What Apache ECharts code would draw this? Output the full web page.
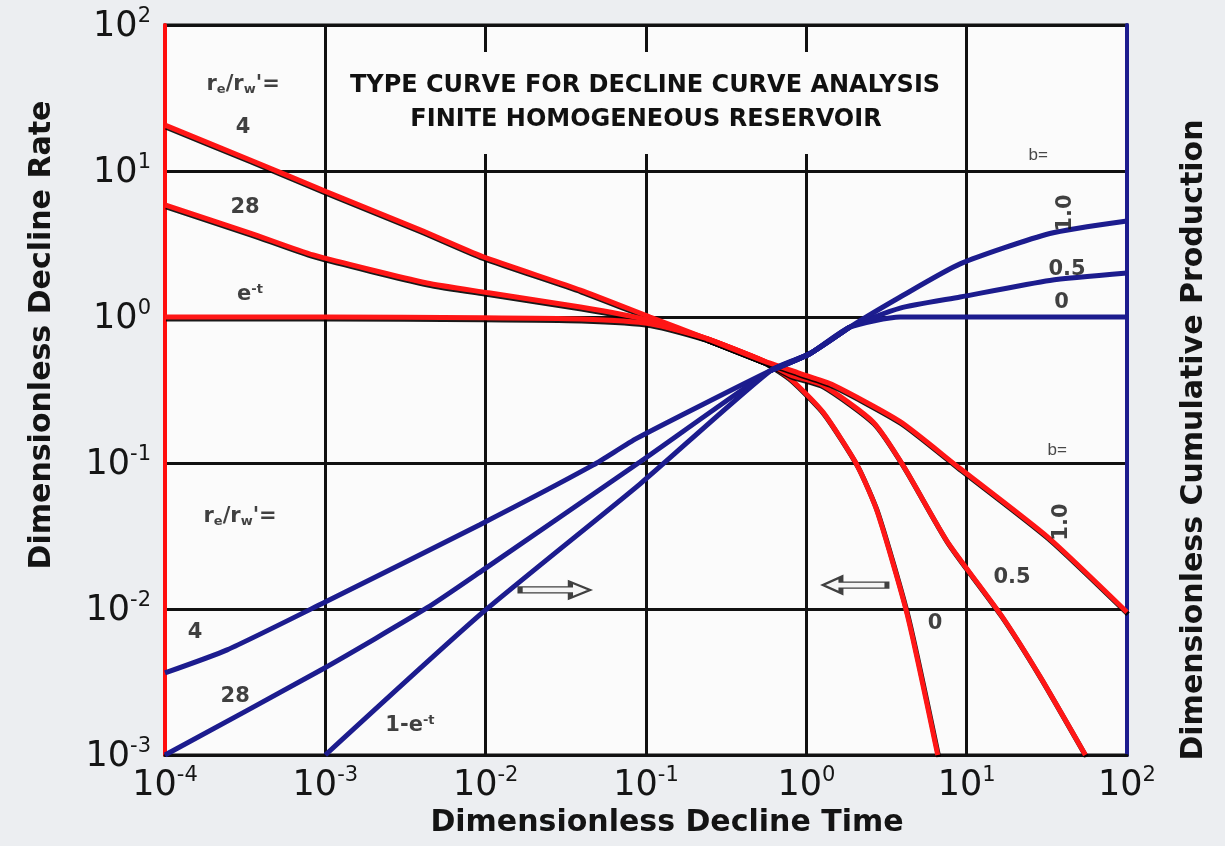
<!DOCTYPE html>
<html>
<head>
<meta charset="utf-8">
<title>Type curve for decline curve analysis</title>
<style>
html, body { margin: 0; padding: 0; background: #eceef1; }
#chart { width: 1225px; height: 846px; }
</style>
<script src="https://cdn.jsdelivr.net/npm/echarts@6/dist/echarts.min.js"></script>
</head>
<body>
<div id="chart"></div>
<script>
// tick labels (exponents of ten)
var xTickExp = ['-4', '-3', '-2', '-1', '0', '1', '2'];
var yTickExp = ['-3', '-2', '-1', '0', '1', '2'];

// decline rate curves (red), [tDd, qDd]
var rateRe4 = [[1e-4, 20.6], [3.4e-4, 11.9], [1.02e-3, 7.2], [3.9e-3, 3.95], [9.5e-3, 2.6], [0.039, 1.53], [0.106, 1.0]];
var rateRe28 = [[1e-4, 5.85], [3.4e-4, 3.76], [8.4e-4, 2.66], [4.3e-3, 1.71], [0.0102, 1.47], [0.039, 1.17], [0.1, 0.96]];
var rateExp = [[1e-4, 1.0], [1e-3, 1.0], [0.0095, 0.99], [0.039, 0.97], [0.106, 0.9]];
var rateTrunk = [[0.24, 0.71], [0.54, 0.50]];
var rateB0 = [[0.79, 0.38], [1.27, 0.223], [2.07, 0.097], [2.77, 0.0464], [4.26, 0.00916], [6.6, 0.001]];
var rateB05 = [[0.8, 0.40], [1.27, 0.341], [2.61, 0.191], [4.02, 0.096], [7.55, 0.0291], [16.2, 0.00925], [28.7, 0.00344], [55, 0.001]];
var rateB1 = [[0.91, 0.411], [1.47, 0.342], [3.85, 0.192], [8.73, 0.095], [31.8, 0.0313], [100, 0.0095]];

// cumulative production curves (blue), [tDd, QDd]
var cumRe4 = [[1e-4, 0.00365], [2.44e-4, 0.00525], [9.7e-4, 0.011], [9.2e-3, 0.0378], [0.047, 0.097], [0.088, 0.148]];
var cumRe28 = [[1e-4, 0.001], [9.7e-4, 0.0039], [4.32e-3, 0.0102], [9.5e-3, 0.0183], [0.092, 0.102]];
var cumExp = [[1e-3, 0.001], [9.5e-3, 0.0094], [0.092, 0.072]];
var cumTrunk = [[0.6, 0.43], [1.05, 0.56], [1.86, 0.85]];
var cumB0 = [[3.85, 1.0], [100, 1.0]];
var cumB05 = [[3.85, 1.15], [9.1, 1.37], [33, 1.78], [100, 2.0]];
var cumB1 = [[3.85, 1.37], [9.1, 2.31], [33, 3.73], [100, 4.55]];

// hand lettered notes on the chart, [tDd, value, text]
var notes = [
    [3.07e-4, 38.8, '{i|r}{sub|e}{i|/r}{sub|w}{i|\'=}'],
    [3.07e-4, 19.7, '4'],
    [3.16e-4, 5.58, '28'],
    [3.39e-4, 1.42, '{i|e}{sup|-t}'],
    [2.94e-4, 0.0427, '{i|r}{sub|e}{i|/r}{sub|w}{i|\'=}'],
    [1.54e-4, 0.00695, '4'],
    [2.74e-4, 0.0025, '28'],
    [3.37e-3, 0.0016, '{i|1-e}{sup|-t}'],
    [42.3, 2.1, '0.5'],
    [39, 1.25, '0'],
    [19.2, 0.0163, '0.5'],
    [6.35, 0.008, '0']
];
var notesTurned = [[41.2, 5.15, '1.0'], [39, 0.0394, '1.0']];
var bNotes = [[27.9, 12.9, 'b='], [36.7, 0.123, 'b=']];
var arrowsRight = [[0.0271, 0.0135]];
var arrowsLeft = [[2.01, 0.0146]];

var RED = '#ff1616';
var BLUE = '#1c1c8e';
var arrowPath = 'path://M0,5 L46,5 L46,0 L64,8 L46,16 L46,11 L0,11 Z';

var myChart = echarts.init(document.getElementById('chart'));

function tickLabel(exps, first) {
    return function (v) {
        var e = Math.round(Math.log10(v));
        return '{b|10}{s|' + exps[e - first] + '}';
    };
}
var tickRich = {
    b: { fontSize: 35, fontFamily: 'DejaVu Sans', color: '#151515', lineHeight: 38, verticalAlign: 'bottom' },
    s: { fontSize: 21, fontFamily: 'DejaVu Sans', color: '#151515', lineHeight: 38, verticalAlign: 'top' }
};
var noteRich = {
    i: { fontSize: 21, fontWeight: 'bold', fontFamily: 'DejaVu Sans', color: '#111' },
    sub: { fontSize: 13, fontWeight: 'bold', fontFamily: 'DejaVu Sans', color: '#111', padding: [10, 0, 0, 0] },
    sup: { fontSize: 13, fontWeight: 'bold', fontFamily: 'DejaVu Sans', color: '#111', padding: [0, 0, 10, 0] }
};
var nameStyle = { fontSize: 30, fontWeight: 'bold', fontFamily: 'DejaVu Sans', color: '#141414' };

function redLine(name, data) {
    return {
        name: name, type: 'line', data: data, yAxisIndex: 0,
        showSymbol: false, smooth: 0.2, z: 3,
        lineStyle: { color: RED, width: 5, shadowColor: 'rgba(0,0,0,0.9)', shadowBlur: 0, shadowOffsetX: 1, shadowOffsetY: 2 }
    };
}
function blueLine(name, data) {
    return {
        name: name, type: 'line', data: data, yAxisIndex: 1,
        showSymbol: false, smooth: 0.2, z: 4,
        lineStyle: { color: BLUE, width: 5 }
    };
}

var option = {
    backgroundColor: '#eceef1',
    animation: false,
    grid: {
        left: 165, right: 98, top: 25, bottom: 91,
        containLabel: false, outerBoundsMode: 'none',
        show: true, backgroundColor: '#fbfbfb', borderColor: '#111', borderWidth: 3
    },
    graphic: [
        { type: 'rect', z: 1, shape: { x: 336, y: 52, width: 614, height: 102 }, style: { fill: '#fbfbfb' } },
        { type: 'text', z: 1, x: 645, y: 86, style: { text: 'TYPE CURVE FOR DECLINE CURVE ANALYSIS', align: 'center', verticalAlign: 'middle', font: 'bold 24px "DejaVu Sans"', fill: '#111' } },
        { type: 'text', z: 1, x: 646, y: 120, style: { text: 'FINITE HOMOGENEOUS RESERVOIR', align: 'center', verticalAlign: 'middle', font: 'bold 24px "DejaVu Sans"', fill: '#111' } }
    ],
    xAxis: {
        type: 'log', logBase: 10, min: 1e-4, max: 100, interval: 1,
        name: 'Dimensionless Decline Time', nameLocation: 'middle', nameGap: 50,
        nameTextStyle: Object.assign({ padding: [0, 0, 0, 42] }, nameStyle),
        axisLine: { show: true, lineStyle: { color: '#111', width: 3 } },
        axisTick: { show: false },
        axisLabel: { margin: 10, formatter: tickLabel(xTickExp, -4), rich: tickRich },
        splitLine: { show: true, lineStyle: { color: '#111', width: 3 } }
    },
    yAxis: [
        {
            type: 'log', logBase: 10, min: 1e-3, max: 100, interval: 1,
            name: 'Dimensionless Decline Rate', nameLocation: 'middle', nameGap: 108, nameRotate: 90,
            nameTextStyle: Object.assign({ padding: [0, 0, 0, 110] }, nameStyle),
            axisLine: { show: true, lineStyle: { color: '#ff0d0d', width: 4 } },
            axisTick: { show: false },
            axisLabel: { margin: 14, formatter: tickLabel(yTickExp, -3), rich: tickRich },
            splitLine: { show: true, lineStyle: { color: '#111', width: 3 } }
        },
        {
            type: 'log', logBase: 10, min: 1e-3, max: 100, interval: 1, position: 'right',
            name: 'Dimensionless Cumulative Production', nameLocation: 'middle', nameGap: 52, nameRotate: 90,
            nameTextStyle: Object.assign({ padding: [0, 100, 0, 0] }, nameStyle),
            axisLine: { show: true, lineStyle: { color: BLUE, width: 4 } },
            axisTick: { show: false },
            axisLabel: { show: false },
            splitLine: { show: false }
        }
    ],
    series: [
        redLine('re/rw 4', rateRe4.concat(rateTrunk)),
        redLine('re/rw 28', rateRe28.concat(rateTrunk)),
        redLine('e^-t', rateExp.concat(rateTrunk)),
        redLine('b=0', rateTrunk.concat(rateB0)),
        redLine('b=0.5', rateTrunk.concat(rateB05)),
        redLine('b=1', rateTrunk.concat(rateB1)),
        blueLine('re/rw 4 cum', cumRe4.concat(cumTrunk)),
        blueLine('re/rw 28 cum', cumRe28.concat(cumTrunk)),
        blueLine('1-e^-t', cumExp.concat(cumTrunk)),
        blueLine('b=0 cum', cumTrunk.concat(cumB0)),
        blueLine('b=0.5 cum', cumTrunk.concat(cumB05)),
        blueLine('b=1 cum', cumTrunk.concat(cumB1)),
        {
            type: 'scatter', data: notes, symbolSize: 0, z: 6, silent: true,
            label: {
                show: true, position: 'inside', rich: noteRich,
                fontSize: 21, fontWeight: 'bold', fontFamily: 'DejaVu Sans', color: '#111',
                formatter: function (p) { return p.value[2]; }
            }
        },
        {
            type: 'scatter', data: notesTurned, symbolSize: 0, z: 6, silent: true,
            label: {
                show: true, position: 'inside', rotate: 90,
                fontSize: 21, fontWeight: 'bold', fontFamily: 'DejaVu Sans', color: '#111',
                formatter: function (p) { return p.value[2]; }
            }
        },
        {
            type: 'scatter', data: bNotes, symbolSize: 0, z: 6, silent: true,
            label: {
                show: true, position: 'inside',
                fontSize: 17, fontFamily: 'Liberation Sans', color: '#1a1a1a',
                formatter: function (p) { return p.value[2]; }
            }
        },
        {
            type: 'scatter', data: arrowsRight, symbol: arrowPath, symbolSize: [70, 16], z: 6, silent: true,
            itemStyle: { color: '#f4f4f4', borderColor: '#111', borderWidth: 2.5 }
        },
        {
            type: 'scatter', data: arrowsLeft, symbol: arrowPath, symbolSize: [64, 16], symbolRotate: 180, z: 6, silent: true,
            itemStyle: { color: '#f4f4f4', borderColor: '#111', borderWidth: 2.5 }
        }
    ]
};

myChart.setOption(option);

window.addEventListener('resize', function () {
    myChart.resize();
});
</script>
</body>
</html>
